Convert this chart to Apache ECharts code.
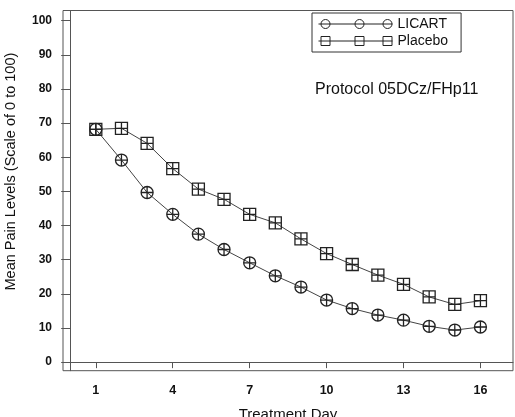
<!DOCTYPE html>
<html>
<head>
<meta charset="utf-8">
<script src="https://cdn.jsdelivr.net/npm/echarts@6/dist/echarts.min.js"></script>
<style>
html,body{margin:0;padding:0;background:#fff;}
#c{width:515px;height:417px;}
</style>
</head>
<body>
<div id="c"></div>
<script>
var days = [1, 2, 3, 4, 5, 6, 7, 8, 9, 10, 11, 12, 13, 14, 15, 16];
var licart = [68.2, 59.2, 49.7, 43.3, 37.5, 33.0, 29.1, 25.3, 22.0, 18.2, 15.7, 13.8, 12.3, 10.5, 9.4, 10.3];
var placebo = [68.2, 68.5, 64.1, 56.7, 50.7, 47.7, 43.3, 40.8, 36.1, 31.8, 28.6, 25.5, 22.8, 19.1, 16.9, 18.0];
var xTicks = [1, 4, 7, 10, 13, 16];
var yTicks = [0, 10, 20, 30, 40, 50, 60, 70, 80, 90, 100];
var seriesNames = ['LICART', 'Placebo'];

var FONT = "'Liberation Sans', Arial, sans-serif";
var circlePlus = 'path://M0,6A6,6 0 1,1 12,6A6,6 0 1,1 0,6ZM6,0L6,12M0,6L12,6';
var squarePlus = 'path://M0,0L12,0L12,12L0,12ZM6,0L6,12M0,6L12,6';
var legCircle = 'path://M0,5L74,5M2.5,5A4.5,4.5 0 1,1 11.5,5A4.5,4.5 0 1,1 2.5,5ZM36.5,5A4.5,4.5 0 1,1 45.5,5A4.5,4.5 0 1,1 36.5,5ZM64.5,5A4.5,4.5 0 1,1 73.5,5A4.5,4.5 0 1,1 64.5,5Z';
var legSquare = 'path://M0,5L74,5M2.5,0.5L11.5,0.5L11.5,9.5L2.5,9.5ZM36.5,0.5L45.5,0.5L45.5,9.5L36.5,9.5ZM64.5,0.5L73.5,0.5L73.5,9.5L64.5,9.5Z';

function pairs(vals) { return days.map(function (d, i) { return [d, vals[i]]; }); }

var chart = echarts.init(document.getElementById('c'), null, {renderer: 'canvas'});
chart.setOption({
  animation: false,
  backgroundColor: '#fff',
  textStyle: {fontFamily: FONT},
  title: {
    text: 'Protocol 05DCz/FHp11',
    left: 310, top: 77,
    textStyle: {fontFamily: FONT, fontSize: 16, fontWeight: 'normal', color: '#111'}
  },
  legend: {
    orient: 'vertical',
    left: 312, top: 13,
    padding: [4, 13, 4, 4],
    itemGap: 3,
    itemWidth: 74, itemHeight: 10,
    borderColor: '#333', borderWidth: 1,
    itemStyle: {color: 'none', borderColor: '#222', borderWidth: 1},
    textStyle: {fontFamily: FONT, fontSize: 14, color: '#111', padding: [0, 0, 0, 0]},
    data: [
      {name: seriesNames[0], icon: legCircle},
      {name: seriesNames[1], icon: legSquare}
    ]
  },
  grid: {left: 63, right: 2, top: 10.5, bottom: 46.3, show: true, borderColor: '#555', borderWidth: 1, backgroundColor: 'transparent', containLabel: false, outerBoundsMode: 'none'},
  xAxis: {
    type: 'value',
    min: -0.28, max: 17.27,
    name: 'Treatment Day',
    nameLocation: 'middle',
    nameGap: 37,
    nameTextStyle: {fontFamily: FONT, fontSize: 15, color: '#111'},
    axisLine: {show: true, lineStyle: {color: '#555', width: 1}},
    axisTick: {show: true, length: 6, customValues: xTicks, lineStyle: {color: '#555'}},
    axisLabel: {customValues: xTicks, margin: 13, fontFamily: FONT, fontSize: 12.5, fontWeight: 'bold', color: '#111'},
    splitLine: {show: false}
  },
  yAxis: {
    type: 'value',
    min: -2.5, max: 103,
    name: 'Mean Pain Levels (Scale of 0 to 100)',
    nameLocation: 'middle',
    nameGap: 45,
    nameTextStyle: {fontFamily: FONT, fontSize: 14.5, color: '#111', padding: [0, 0, 0, 38]},
    axisLine: {show: true, lineStyle: {color: '#555', width: 1}},
    axisTick: {show: true, length: 9, customValues: yTicks, lineStyle: {color: '#555'}},
    axisLabel: {customValues: yTicks, margin: 11, fontFamily: FONT, fontSize: 12, fontWeight: 'bold', color: '#111'},
    splitLine: {show: false}
  },
  series: [
    {
      name: seriesNames[0], type: 'line', data: pairs(licart),
      symbol: circlePlus, symbolSize: 12, showAllSymbol: true,
      lineStyle: {color: '#444', width: 1},
      itemStyle: {color: 'none', borderColor: '#222', borderWidth: 1.3},
      emphasis: {disabled: true}
    },
    {
      name: seriesNames[1], type: 'line', data: pairs(placebo),
      symbol: squarePlus, symbolSize: 12, showAllSymbol: true,
      lineStyle: {color: '#444', width: 1},
      itemStyle: {color: 'none', borderColor: '#222', borderWidth: 1.3},
      emphasis: {disabled: true}
    }
  ]
});
</script>
</body>
</html>
